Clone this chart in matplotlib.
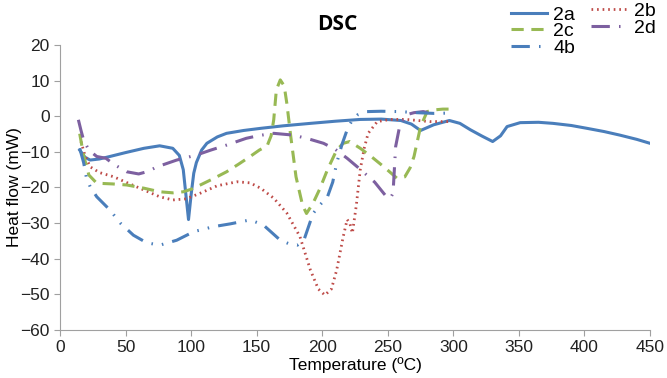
import matplotlib
matplotlib.use("Agg")
import matplotlib.pyplot as plt

# DSC curves (temperature in C, heat flow in mW)
t_2a = [15, 19, 23, 30, 38, 50, 64, 76, 86, 91, 94, 96, 98, 100, 102, 104, 108, 112, 120, 127, 140, 153, 170, 191, 210, 229, 245, 260, 268, 275, 285, 297, 305, 313, 322, 330, 336, 341, 351, 365, 376, 390, 402, 415, 427, 440, 450]
hf_2a = [-9.5, -11.5, -12.3, -12.0, -11.3, -10.2, -9.0, -8.3, -9.0, -11.0, -15.0, -22.0, -29.0, -22.0, -16.0, -13.0, -9.5, -7.6, -5.8, -4.8, -4.0, -3.4, -2.7, -2.0, -1.4, -0.9, -0.8, -1.2, -2.2, -4.0, -2.4, -1.2, -2.0, -3.8, -5.6, -7.1, -5.5, -2.9, -1.8, -1.7, -2.0, -2.6, -3.4, -4.3, -5.3, -6.5, -7.6]

t_2b = [16, 19, 23, 30, 41, 52, 64, 76, 86, 96, 107, 120, 135, 145, 153, 163, 173, 183, 191, 197, 202, 207, 211, 216, 219, 221, 223, 226, 229, 232, 235, 242, 252, 264, 282, 297]
hf_2b = [-7.1, -11.0, -14.2, -15.8, -17.0, -18.8, -20.7, -22.6, -23.5, -23.2, -21.6, -19.5, -18.4, -18.7, -20.2, -23.0, -27.2, -33.8, -43.2, -48.5, -50.2, -48.5, -43.2, -33.8, -29.0, -30.0, -32.8, -25.0, -15.0, -9.0, -4.8, -1.5, -0.9, -0.9, -1.5, -1.5]

t_2c = [15, 18, 22, 28, 40, 51, 64, 76, 86, 94, 100, 107, 117, 127, 136, 145, 152, 158, 161, 163, 165, 168, 171, 173, 176, 180, 185, 188, 193, 198, 204, 211, 216, 221, 229, 238, 247, 257, 263, 267, 270, 275, 280, 286, 292, 297]
hf_2c = [-4.9, -11.0, -16.5, -18.8, -19.0, -19.3, -20.2, -21.2, -21.5, -21.2, -20.5, -19.3, -17.5, -15.6, -13.5, -11.3, -9.5, -8.3, -5.5, -1.0, 7.4, 10.2, 8.5, 3.6, -5.7, -17.0, -25.0, -27.3, -24.4, -20.5, -15.0, -9.5, -7.6, -7.1, -9.0, -11.5, -14.2, -17.4, -17.0, -14.5, -11.3, -2.9, 1.3, 1.8, 2.0, 2.0]

t_2d = [14, 16, 18, 22, 28, 35, 41, 51, 60, 67, 74, 89, 104, 115, 127, 142, 152, 163, 178, 190, 201, 210, 219, 229, 240, 249, 252, 254, 256, 259, 264, 270, 277, 281]
hf_2d = [-1.0, -4.0, -6.7, -9.5, -11.3, -11.8, -13.5, -15.6, -16.2, -15.5, -14.2, -12.3, -10.9, -9.5, -8.1, -6.2, -5.4, -4.8, -5.3, -6.4, -7.6, -9.3, -11.8, -14.9, -18.5, -22.6, -23.0, -21.6, -8.5, -2.9, 0.4, 1.0, 1.3, 1.0]

t_4b = [15, 18, 20, 23, 28, 38, 46, 56, 66, 76, 89, 102, 117, 130, 145, 155, 168, 176, 181, 186, 193, 198, 204, 208, 211, 215, 219, 223, 227, 234, 245, 259, 272, 285, 300]
hf_4b = [-9.0, -13.0, -17.0, -19.8, -22.6, -26.3, -30.0, -33.4, -35.5, -36.2, -34.8, -32.4, -31.0, -30.2, -29.1, -30.5, -34.8, -36.0, -36.2, -34.8, -27.3, -25.0, -22.6, -18.5, -13.2, -8.0, -3.8, -1.0, 0.4, 1.3, 1.4, 1.3, 1.0, 0.8, 0.9]

fig = plt.figure(figsize=(6.67, 3.78), dpi=100)
ax = fig.add_axes([0.09, 0.127, 0.8845, 0.754])

blue = '#4A7EBB'
red = '#BE4B48'
green = '#98B954'
purple = '#7D60A0'

l_2a, = ax.plot(t_2a, hf_2a, color=blue, lw=2.2, label='2a')
l_2b, = ax.plot(t_2b, hf_2b, color=red, lw=2.0, linestyle=(0, (0.6, 1.4)), label='2b')
l_2c, = ax.plot(t_2c, hf_2c, color=green, lw=2.2, linestyle=(0, (4, 2.5)), label='2c')
l_2d, = ax.plot(t_2d, hf_2d, color=purple, lw=2.2, linestyle=(0, (6, 3, 0.5, 3)), label='2d')
l_4b, = ax.plot(t_4b, hf_4b, color=blue, lw=2.2, linestyle=(0, (6, 3, 0.5, 3, 0.5, 3)), label='4b')

ax.set_xlim(0, 450)
ax.set_ylim(-60, 20)
ax.set_xticks(range(0, 451, 50))
ax.set_yticks(range(-60, 21, 10))

fam = ['Liberation Sans', 'DejaVu Sans']
for s in ['top', 'right']:
    ax.spines[s].set_visible(False)
for s in ['left', 'bottom']:
    ax.spines[s].set_color('#A0A0A0')
ax.tick_params(colors='#A0A0A0', labelcolor='#222222', length=4, direction='out', labelsize=12.5)
for lbl in ax.get_xticklabels() + ax.get_yticklabels():
    lbl.set_family(fam)

ax.set_xlabel('Temperature (ºC)', fontsize=12.5, family=fam, labelpad=1)
ax.set_ylabel('Heat flow (mW)', fontsize=12.5, family=fam)
ax.yaxis.set_label_coords(-0.065, 0.5)

fig.text(0.505, 0.935, 'DSC', fontsize=15, fontweight='bold', ha='center', va='center',
         family=['Open Sans', 'DejaVu Sans'])

leg_kw = dict(frameon=False, prop={'family': fam, 'size': 14}, handlelength=1.9,
              handletextpad=0.3, labelspacing=-0.05, borderpad=0.2)
leg1 = fig.legend(handles=[l_2a, l_2c, l_4b], loc='upper left',
                  bbox_to_anchor=(0.745, 1.02), **leg_kw)
leg2 = fig.legend(handles=[l_2b, l_2d], loc='upper left',
                  bbox_to_anchor=(0.866, 1.03), **leg_kw)

fig.savefig('out.png', dpi=100)
